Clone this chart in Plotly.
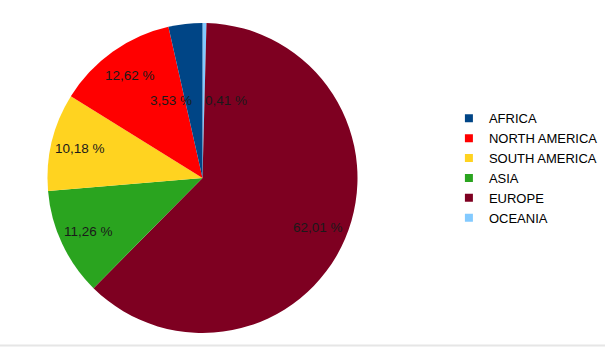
import math
import plotly.graph_objects as go

regions = ["AFRICA", "NORTH AMERICA", "SOUTH AMERICA", "ASIA", "EUROPE", "OCEANIA"]
shares = [3.53, 12.62, 10.18, 11.26, 62.01, 0.41]
colors = ["#004586", "#ff0000", "#ffd320", "#2aa41f", "#7e0021", "#83caff"]

W, H = 605, 347
CX, CY, R = 202.5, 178.0, 155.0  # pie centre/radius in px

dom_x = [(CX - R) / W, (CX + R) / W]
dom_y = [1 - (CY + R) / H, 1 - (CY - R) / H]

fig = go.Figure()
# slices run counterclockwise from 12 o'clock in legend order;
# drawn as the reversed list going clockwise
fig.add_trace(go.Pie(
    labels=regions[::-1], values=shares[::-1], sort=False, direction="clockwise",
    rotation=0, marker=dict(colors=colors[::-1], line=dict(width=0)),
    textinfo="none", hoverinfo="label+value", showlegend=False,
    domain=dict(x=dom_x, y=dom_y),
))

# legend entries
for name, col in zip(regions, colors):
    fig.add_trace(go.Scatter(x=[None], y=[None], mode="markers", name=name,
                             marker=dict(symbol="square", size=8, color=col)))

# slice labels, placed along each slice's mid-angle (counterclockwise from top)
total = sum(shares)
cum = 0.0
for v in shares:
    theta = 2 * math.pi * (cum + v / 2) / total
    cum += v
    small = v < 5
    f = 0.5 if small else 0.81
    px = CX - R * f * math.sin(theta)
    py = CY - R * f * math.cos(theta)
    if small:
        anchor = "right" if math.sin(theta) > 0 else "left"
    else:
        anchor = "center"
    fig.add_annotation(x=px / W, y=1 - py / H, xref="paper", yref="paper",
                       text=f"{v:.2f} %".replace(".", ","), showarrow=False,
                       xanchor=anchor, yanchor="middle",
                       font=dict(size=13.5, color="#1a1a1a"))

fig.add_shape(type="line", xref="paper", yref="paper", x0=0, x1=1, y0=0.004, y1=0.004,
              line=dict(color="#e6e6e6", width=2))

fig.update_layout(
    width=W, height=H, margin=dict(l=0, r=0, t=0, b=0),
    paper_bgcolor="white", plot_bgcolor="white",
    font=dict(family="Liberation Sans, Arial, sans-serif", size=13, color="#000000"),
    xaxis=dict(visible=False), yaxis=dict(visible=False),
    legend=dict(x=0.742, y=0.515, xanchor="left", yanchor="middle",
                font=dict(size=13, color="#000000"), itemwidth=30,
                bgcolor="rgba(0,0,0,0)", tracegroupgap=0),
)

fig.write_html("out.html")
